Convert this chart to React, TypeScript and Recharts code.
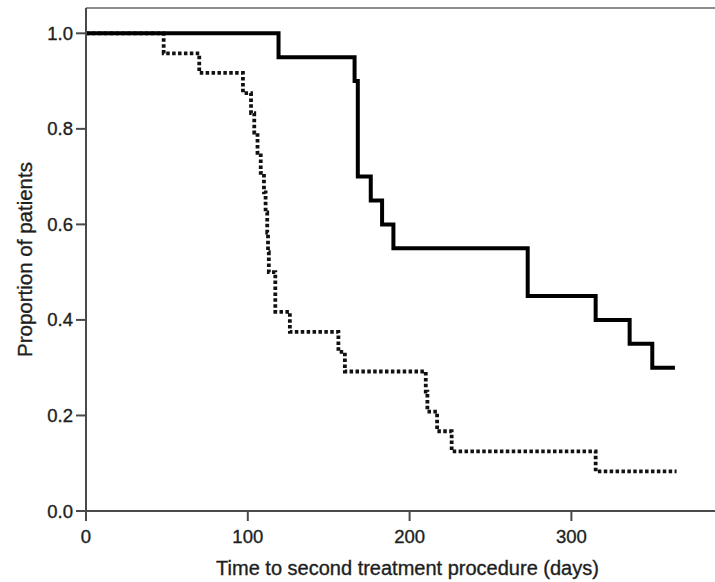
import React from 'react';
import { LineChart, Line, XAxis, YAxis, ReferenceLine, Label } from 'recharts';

// Kaplan-Meier style curves
const solidDays = [0, 119, 166, 168, 176, 183, 190, 273, 315, 336, 350, 364];
const solidProp = [1.0, 0.95, 0.9, 0.7, 0.65, 0.6, 0.55, 0.45, 0.4, 0.35, 0.3, 0.3];

const dottedDays = [0, 48, 70, 97, 102, 104, 106, 108, 110, 111, 112, 112.5, 113, 117, 126, 156, 160, 210, 211, 217, 226, 315, 365];
const dottedProp = [1.0, 0.958, 0.917, 0.875, 0.833, 0.792, 0.75, 0.708, 0.667, 0.625, 0.583, 0.542, 0.5, 0.417, 0.375, 0.333, 0.292, 0.25, 0.208, 0.167, 0.125, 0.083, 0.083];

const xTicks = [0, 100, 200, 300];
const yTicks = [0, 0.2, 0.4, 0.6, 0.8, 1.0];

const xDomain = [0, 390];
const yTop = 1.053;

const solidData = solidDays.map((t, i) => ({ t, p: solidProp[i] }));
const dottedData = dottedDays.map((t, i) => ({ t, p: dottedProp[i] }));

const font = "'Liberation Sans', Arial, sans-serif";
const textColor = '#1e1e1e';
const tickStyle = { fill: textColor, fontSize: 18.5, fontFamily: font, stroke: textColor, strokeWidth: 0.35 };
const axisColor = '#4a4a4a';

const YTitle = (props: any) => {
  const vb = props.viewBox;
  const cx = 32;
  const cy = vb.y + vb.height / 2;
  return (
    <text x={cx} y={cy} transform={`rotate(-90 ${cx} ${cy})`} textAnchor='middle' fill={textColor} stroke={textColor} strokeWidth={0.35} fontSize={20.5} fontFamily={font}>
      Proportion of patients
    </text>
  );
};

const XTitle = (props: any) => {
  const vb = props.viewBox;
  return (
    <text x={vb.x + vb.width / 2 + 6} y={575} textAnchor='middle' fill={textColor} stroke={textColor} strokeWidth={0.35} fontSize={20} fontFamily={font}>
      Time to second treatment procedure (days)
    </text>
  );
};

const App: React.FC = () => {
  return (
    <div style={{ position: 'absolute', left: 0, top: 0, width: 715, height: 582, overflow: 'hidden', background: '#fff' }}>
      <LineChart width={717} height={582} margin={{ top: 8, right: 0, left: 0, bottom: 0 }}>
        <XAxis
          type='number'
          dataKey='t'
          domain={xDomain}
          ticks={xTicks}
          allowDataOverflow
          tick={tickStyle}
          tickSize={10}
          tickMargin={9}
          height={71}
          stroke={axisColor}
          strokeWidth={2}
        >
          <Label content={<XTitle />} />
        </XAxis>
        <YAxis
          type='number'
          domain={[0, yTop]}
          ticks={yTicks}
          allowDataOverflow
          tickFormatter={(v: number) => v.toFixed(1)}
          tick={tickStyle}
          tickSize={10}
          tickMargin={3}
          width={86}
          stroke={axisColor}
          strokeWidth={2}
        >
          <Label content={<YTitle />} />
        </YAxis>
        <ReferenceLine y={yTop} stroke='#8c8c8c' strokeWidth={2} />
        <Line
          data={dottedData}
          dataKey='p'
          type='stepAfter'
          stroke='#111'
          strokeWidth={3.8}
          strokeDasharray='3.5 2.4'
          dot={false}
          activeDot={false}
          isAnimationActive={false}
        />
        <Line
          data={solidData}
          dataKey='p'
          type='stepAfter'
          stroke='#000'
          strokeWidth={4}
          dot={false}
          activeDot={false}
          isAnimationActive={false}
        />
      </LineChart>
    </div>
  );
};

export default App;
